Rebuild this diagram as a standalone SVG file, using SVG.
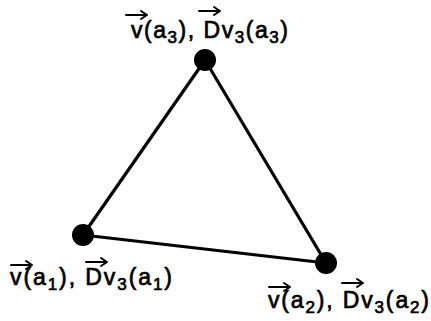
<svg xmlns="http://www.w3.org/2000/svg" width="431" height="321" viewBox="0 0 431 321">
<style>
.edge{stroke:#000;stroke-width:3.2;fill:none}
.node{fill:#000}
.lbl{font-family:"Liberation Sans",Arial,sans-serif;font-size:23px;fill:#000;stroke:#000;stroke-width:0.7}
.sub{font-size:17px}
.vec{stroke:#000;stroke-width:2;fill:none;stroke-linecap:round;stroke-linejoin:round}
</style>
<defs>
<path id="arr" d="M0,0 H21 M15,-4 L21,0 L15,4"/>
</defs>
<g id="connectors">
<line class="edge" x1="205" y1="60" x2="83" y2="235"/>
<line class="edge" x1="205" y1="60" x2="326" y2="263"/>
<line class="edge" x1="83" y1="235" x2="326" y2="263"/>
</g>
<g id="a3">
<circle class="node" cx="205" cy="60" r="11"/>
<text class="lbl" x="131" y="38" textLength="157" lengthAdjust="spacing">v(a<tspan class="sub" dy="5">3</tspan><tspan dy="-5">), Dv</tspan><tspan class="sub" dy="5">3</tspan><tspan dy="-5">(a</tspan><tspan class="sub" dy="5">3</tspan><tspan dy="-5">)</tspan></text>
<use href="#arr" class="vec" x="126" y="15"/>
<use href="#arr" class="vec" x="199" y="11"/>
</g>
<g id="a1">
<circle class="node" cx="83" cy="235" r="11"/>
<text class="lbl" x="10" y="285" textLength="162" lengthAdjust="spacing">v(a<tspan class="sub" dy="5">1</tspan><tspan dy="-5">), Dv</tspan><tspan class="sub" dy="5">3</tspan><tspan dy="-5">(a</tspan><tspan class="sub" dy="5">1</tspan><tspan dy="-5">)</tspan></text>
<use href="#arr" class="vec" x="11" y="265"/>
<use href="#arr" class="vec" x="86" y="262"/>
</g>
<g id="a2">
<circle class="node" cx="326" cy="263" r="11"/>
<text class="lbl" x="268" y="308" textLength="161" lengthAdjust="spacing">v(a<tspan class="sub" dy="5">2</tspan><tspan dy="-5">), Dv</tspan><tspan class="sub" dy="5">3</tspan><tspan dy="-5">(a</tspan><tspan class="sub" dy="5">2</tspan><tspan dy="-5">)</tspan></text>
<use href="#arr" class="vec" x="269" y="287"/>
<use href="#arr" class="vec" x="342" y="283"/>
</g>
</svg>
